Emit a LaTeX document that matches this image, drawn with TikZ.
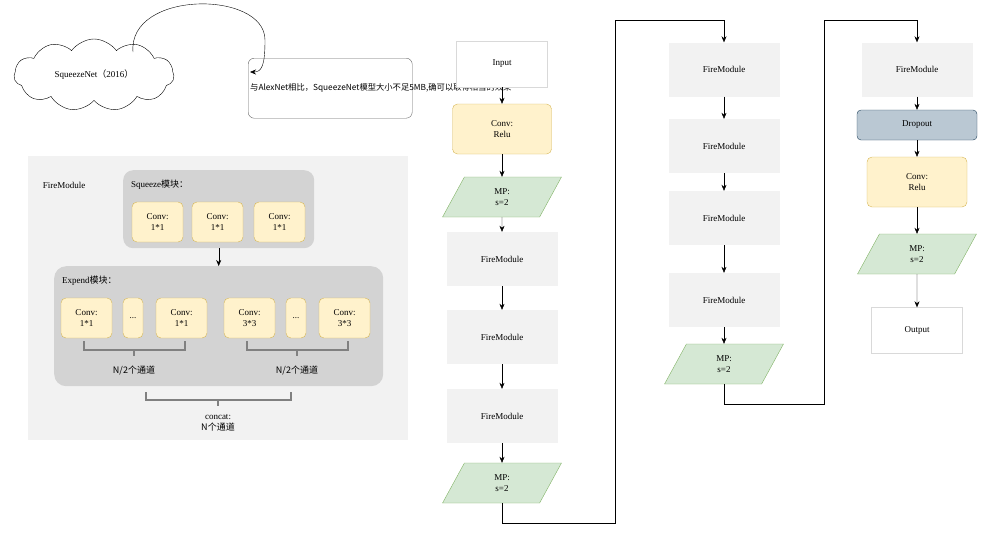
\documentclass[tikz,border=0pt]{standalone}
\usepackage{fontspec}
\setmainfont{Liberation Serif}
\newfontfamily\cjk{Noto Sans CJK SC}
\usetikzlibrary{shapes.geometric,shapes.symbols,arrows.meta}
\definecolor{fm}{HTML}{F2F2F2}
\definecolor{yf}{HTML}{FFF2CC}
\definecolor{yd}{HTML}{D6B656}
\definecolor{gf}{HTML}{D5E8D4}
\definecolor{gd}{HTML}{82B366}
\definecolor{bf}{HTML}{BAC8D3}
\definecolor{bd}{HTML}{23445D}
\definecolor{mid}{HTML}{D3D3D3}
\tikzset{
 x=1pt,y=-1pt,
 every node/.style={font=\fontsize{9}{11}\selectfont, align=center, inner sep=1pt},
 box/.style={rectangle, minimum width=#1},
 fmod/.style={rectangle, fill=fm, minimum width=111, minimum height=54},
 conv/.style={rectangle, rounded corners=5, fill=yf, draw=yd},
 mp/.style={trapezium, trapezium left angle=75, trapezium right angle=105, trapezium stretches=true, fill=gf, draw=gd, minimum width=119, minimum height=40},
 wbox/.style={rectangle, draw=black!15, fill=white, minimum width=91, minimum height=46},
 arr/.style={-{Stealth[length=6pt,width=5pt]}, black},
 brk/.style={draw=gray, line width=1.5pt},
}
\begin{document}
\begin{tikzpicture}
\useasboundingbox (0,0) rectangle (984,539);
% cloud and note
\node[cloud, cloud puffs=11, cloud puff arc=110, aspect=2.4, draw, minimum width=160, minimum height=72] (cl) at (94,75) {SqueezeNet{\cjk （}2016{\cjk ）}};
\node[rectangle, rounded corners=6, draw=black!60, minimum width=164, minimum height=60, text width=160, align=left, font=\cjk\fontsize{8.3}{12}\selectfont, anchor=north west] (note) at (248,58) {与AlexNet相比，SqueezeNet模型大小不足5MB,确可以取得相当的效果};
\coordinate (nt) at (250,72);
\draw[arr] (133,52) .. controls (128,-10) and (265,-10) .. (265,40) .. controls (265,65) and (262,72) .. (nt);
% FireModule panel
\fill[fm] (28,156) rectangle (408,440);
\node (fml) at (64,185) {FireModule};
\node[rectangle, rounded corners=10, fill=mid, minimum width=191, minimum height=78, anchor=north west] (sq) at (123,170) {};
\node[anchor=west] (sql) at (130,185) {Squeeze{\cjk 模块：}};
\foreach \x/\n in {157.5/s1,217.5/s2,279.5/s3}
  \node[conv, minimum width=51, minimum height=40] (\n) at (\x,222) {Conv:\\1*1};
\node[rectangle, rounded corners=12, fill=mid, minimum width=329, minimum height=120, anchor=north west] (ex) at (54,266) {};
\draw[arr] (sq.south) -- (ex.north);
\node[anchor=west] (exl) at (61,281) {Expend{\cjk 模块：}};
\node[conv, minimum width=51, minimum height=40] (e1) at (86.5,318) {Conv:\\1*1};
\node[conv, minimum width=20, minimum height=40] (e2) at (133,318) {...};
\node[conv, minimum width=51, minimum height=40] (e3) at (181.5,318) {Conv:\\1*1};
\node[conv, minimum width=51, minimum height=40] (e4) at (249.5,318) {Conv:\\3*3};
\node[conv, minimum width=20, minimum height=40] (e5) at (296,318) {...};
\node[conv, minimum width=51, minimum height=40] (e6) at (344.5,318) {Conv:\\3*3};
\draw[brk] (84,341) -- (84,350) -- (185,350) -- (185,341) (134,350) -- (134,356);
\draw[brk] (247,341) -- (247,350) -- (348,350) -- (348,341) (297,350) -- (297,356);
\node[font=\cjk\fontsize{9}{11}\selectfont] (t1) at (134,370) {N/2个通道};
\node[font=\cjk\fontsize{9}{11}\selectfont] (t2) at (297,370) {N/2个通道};
\draw[brk] (146,392) -- (146,400) -- (291,400) -- (291,392) (218,400) -- (218,406);
\node (t3) at (218,423) {concat:\\{\cjk N个通道}};
% column 1
\node[wbox] (in) at (502,64) {Input};
\node[conv, minimum width=99, minimum height=50] (c1) at (502,129) {Conv:\\Relu};
\node[mp] (m1) at (502,197) {MP:\\s=2};
\node[fmod] (f1) at (502,259) {FireModule};
\node[fmod] (f2) at (502,337) {FireModule};
\node[fmod] (f3) at (502,416) {FireModule};
\node[mp] (m2) at (502,483) {MP:\\s=2};
\draw[arr] (in) -- (c1); \draw[arr] (c1) -- (m1); \draw[arr] (m1) -- (f1);
\draw[arr] (f1) -- (f2); \draw[arr] (f2) -- (f3); \draw[arr] (f3) -- (m2);
% column 2
\node[fmod] (g1) at (724,69.5) {FireModule};
\node[fmod] (g2) at (724,146) {FireModule};
\node[fmod] (g3) at (724,218) {FireModule};
\node[fmod] (g4) at (724,300) {FireModule};
\node[mp] (m3) at (724,364) {MP:\\s=2};
\draw[arr] (m2.south) -- ++(0,20) -| (615,20) -| (g1.north);
\draw[arr] (g1) -- (g2); \draw[arr] (g2) -- (g3); \draw[arr] (g3) -- (g4); \draw[arr] (g4) -- (m3);
% column 3
\node[fmod] (h1) at (917,69.5) {FireModule};
\node[rectangle, rounded corners=4, fill=bf, draw=bd, minimum width=120, minimum height=30] (dr) at (917,125) {Dropout};
\node[conv, minimum width=100, minimum height=50] (c2) at (917,182) {Conv:\\Relu};
\node[mp] (m4) at (917,254) {MP:\\s=2};
\node[wbox] (out) at (917,330.5) {Output};
\draw[arr] (m3.south) -- ++(0,20) -| (824,20) -| (h1.north);
\draw[arr] (h1) -- (dr); \draw[arr] (dr) -- (c2); \draw[arr] (c2) -- (m4); \draw[arr] (m4) -- (out);
\end{tikzpicture}
\end{document}
